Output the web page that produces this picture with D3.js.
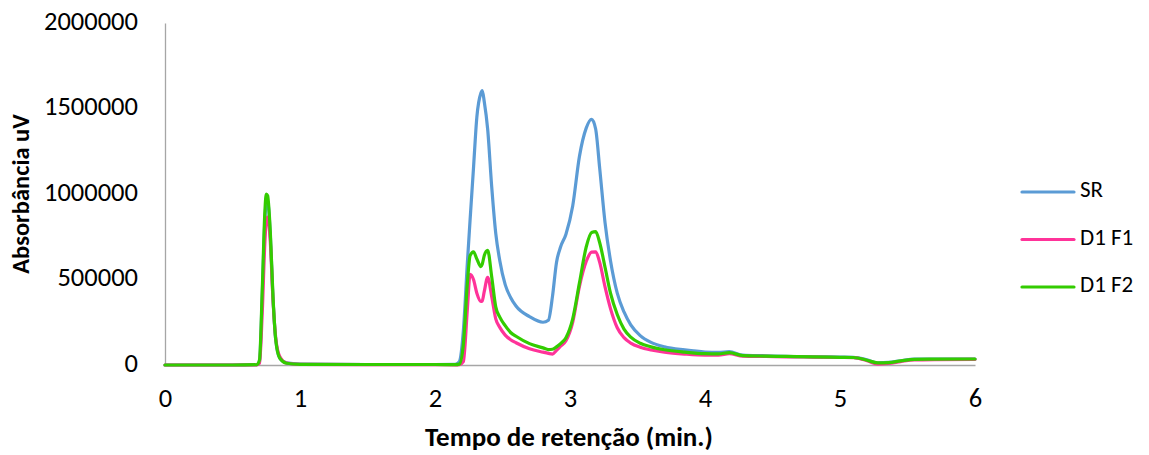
<!DOCTYPE html>
<html>
<head>
<meta charset="utf-8">
<script src="https://cdn.jsdelivr.net/npm/d3@7"></script>
<style>
  html, body { margin: 0; padding: 0; background: #ffffff; }
  svg { display: block; }
  text { font-family: Carlito, Calibri, "Liberation Sans", Arial, sans-serif; fill: #000; }
</style>
</head>
<body>
<svg id="chart" width="1149" height="455"></svg>
<script>
// Retention time (min.)
const time = [0, 0.5, 0.68, 0.70, 0.72, 0.74, 0.75, 0.76, 0.78, 0.80, 0.82, 0.85, 0.90, 1.0, 1.5, 2.0,
  2.15, 2.18, 2.21, 2.24, 2.26, 2.285, 2.31, 2.34, 2.35, 2.365, 2.39, 2.42, 2.45, 2.48, 2.52, 2.56, 2.60,
  2.70, 2.80, 2.84, 2.87, 2.90, 2.93, 2.97, 3.02, 3.07, 3.12, 3.16, 3.19, 3.22, 3.26, 3.30, 3.35, 3.40,
  3.45, 3.52, 3.60, 3.70, 3.85, 4.00, 4.10, 4.18, 4.28, 4.45, 4.60, 4.80, 5.00, 5.10, 5.20, 5.28, 5.36,
  5.45, 5.55, 5.70, 6.00];

// Absorbance (uV) per series
const srValues = [0, 0, 2000, 20000, 400000, 850000, 950000, 960000, 760000, 390000, 150000, 40000, 12000, 5000, 3000, 3000,
  4000, 20000, 200000, 600000, 850000, 1150000, 1450000, 1590000, 1605000, 1540000, 1380000, 1043000, 770000, 610000, 470000, 395000, 345000,
  283000, 250000, 262000, 400000, 600000, 690000, 765000, 930000, 1220000, 1385000, 1437000, 1380000, 1150000, 830000, 610000, 420000, 310000,
  235000, 172000, 132000, 106000, 88000, 76000, 74000, 78000, 58000, 54000, 50000, 48000, 46000, 45000, 30000, 13000, 15000,
  25000, 35000, 35000, 35000];

const d1f1Values = [0, 0, 1000, 10000, 300000, 720000, 840000, 865000, 720000, 380000, 160000, 50000, 12000, 4000, 2000, 2000,
  1000, 2000, 20000, 330000, 530000, 500000, 420000, 372000, 375000, 430000, 512000, 400000, 270000, 220000, 175000, 148000, 130000,
  95000, 75000, 68000, 64000, 85000, 110000, 142000, 250000, 460000, 605000, 660000, 662000, 600000, 455000, 330000, 218000, 160000,
  128000, 104000, 88000, 75000, 64000, 58000, 58000, 66000, 52000, 50000, 48000, 46000, 44000, 43000, 25000, 5000, 9000,
  20000, 30000, 32000, 33000];

const d1f2Values = [0, 0, 2000, 30000, 430000, 900000, 1000000, 990000, 780000, 400000, 150000, 40000, 10000, 4000, 3000, 3000,
  2000, 5000, 120000, 480000, 640000, 662000, 620000, 575000, 590000, 640000, 670000, 516000, 340000, 280000, 230000, 190000, 168000,
  125000, 100000, 90000, 92000, 106000, 125000, 160000, 270000, 480000, 690000, 775000, 780000, 715000, 570000, 420000, 295000, 210000,
  163000, 127000, 106000, 89000, 75000, 66000, 65000, 72000, 55000, 52000, 50000, 47000, 45000, 44000, 28000, 12000, 14000,
  24000, 33000, 34000, 35000];

const seriesNames = ["SR", "D1 F1", "D1 F2"];
const seriesColors = ["#5B9BD5", "#FF3399", "#33CC00"];
const xTicks = [0, 1, 2, 3, 4, 5, 6];
const yTicks = [0, 500000, 1000000, 1500000, 2000000];
const xTitle = "Tempo de retenção (min.)";
const yTitle = "Absorbância uV";

const seriesValues = [srValues, d1f1Values, d1f2Values];

const svg = d3.select("#chart");
const x = d3.scaleLinear().domain([0, 6]).range([165, 975]);
const y = d3.scaleLinear().domain([0, 2000000]).range([365, 23]);

// Axes (no tick marks)
const xAxis = d3.axisBottom(x).tickValues(xTicks).tickSize(0).tickPadding(27).tickFormat(d3.format("d"));
const yAxis = d3.axisLeft(y).tickValues(yTicks).tickSize(0).tickPadding(27).tickFormat(d3.format("d"));

const gx = svg.append("g").attr("transform", `translate(0,${y(0)})`).call(xAxis);
const gy = svg.append("g").attr("transform", `translate(${x(0)},0)`).call(yAxis);
[gx, gy].forEach(g => {
  g.select(".domain").attr("stroke", "#A6A6A6").attr("stroke-width", 1.3);
  g.selectAll(".tick text").style("font-size", "26.5px").attr("fill", "#000");
});
gx.selectAll(".tick text").attr("dy", "0").attr("y", 36).attr("dominant-baseline", "middle");
gy.selectAll(".tick text").attr("dy", "0").attr("x", -27).attr("dominant-baseline", "middle");

// Lines
const line = d3.line()
  .x((d, i) => x(time[i]))
  .y(d => y(d))
  .curve(d3.curveMonotoneX);

svg.append("g").selectAll("path")
  .data(seriesValues)
  .join("path")
  .attr("d", d => line(d))
  .attr("fill", "none")
  .attr("stroke", (d, i) => seriesColors[i])
  .attr("stroke-width", 3.2)
  .attr("stroke-linejoin", "round")
  .attr("stroke-linecap", "round");

// Axis titles
svg.append("text")
  .attr("x", (x(0) + x(6)) / 2 - 1)
  .attr("y", 439)
  .attr("text-anchor", "middle")
  .attr("dominant-baseline", "middle")
  .style("font-size", "27px")
  .style("font-weight", "bold")
  .text(xTitle);

svg.append("text")
  .attr("transform", `translate(23,${(y(0) + y(2000000)) / 2}) rotate(-90)`)
  .attr("text-anchor", "middle")
  .attr("dominant-baseline", "middle")
  .style("font-size", "24.5px")
  .style("font-weight", "bold")
  .text(yTitle);

// Legend
const legend = svg.append("g");
const legendY = d3.scalePoint().domain(seriesNames).range([192, 287]);
seriesNames.forEach((name, i) => {
  legend.append("line")
    .attr("x1", 1022).attr("x2", 1074)
    .attr("y1", legendY(name)).attr("y2", legendY(name))
    .attr("stroke", seriesColors[i]).attr("stroke-width", 3.2)
    .attr("stroke-linecap", "round");
  legend.append("text")
    .attr("x", 1080).attr("y", legendY(name))
    .attr("dominant-baseline", "middle")
    .style("font-size", "23px")
    .text(name);
});
</script>
</body>
</html>
